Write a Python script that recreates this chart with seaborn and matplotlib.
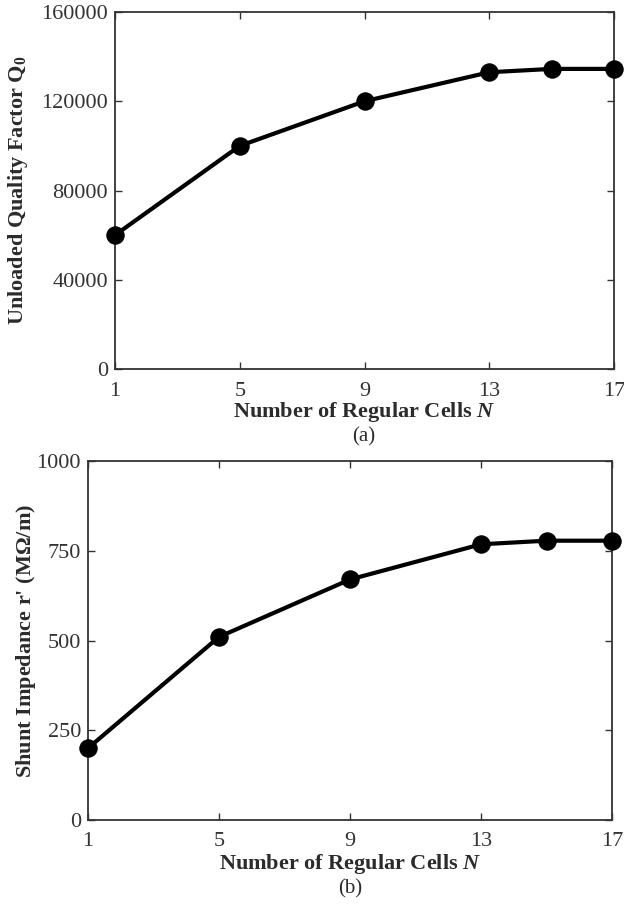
import matplotlib
matplotlib.use("Agg")
import matplotlib.pyplot as plt
import seaborn as sns
import pandas as pd

cells = [1, 5, 9, 13, 15, 17]
q0 = [60000, 100000, 120000, 133000, 134500, 134500]
shunt = [200, 510, 670, 768, 778, 778]
xticks = [1, 5, 9, 13, 17]
q_ticks = [0, 40000, 80000, 120000, 160000]
r_ticks = [0, 250, 500, 750, 1000]

sns.set_style("ticks")
plt.rcParams["font.family"] = ["Liberation Serif", "DejaVu Serif"]
plt.rcParams["mathtext.fontset"] = "custom"
plt.rcParams["mathtext.rm"] = "Liberation Serif"
plt.rcParams["mathtext.it"] = "Liberation Serif:italic"
plt.rcParams["mathtext.bf"] = "Liberation Serif:bold"
plt.rcParams["mathtext.bfit"] = "Liberation Serif:italic:bold"

df = pd.DataFrame({"N": cells, "Q0": q0, "R": shunt})

W, H = 624, 919
fig = plt.figure(figsize=(W / 100, H / 100), dpi=100)

def box(l, t, r, b):
    return [l / W, 1 - b / H, (r - l) / W, (b - t) / H]

ax1 = fig.add_axes(box(115, 12, 614, 369))
ax2 = fig.add_axes(box(88, 461, 612, 820))

tick_fs = 16
lab_fs = 16
txtc = "#2b2b2b"
panels = [
    (ax1, "Q0", q_ticks, r"Unloaded Quality Factor Q$_\mathbf{0}$", 30, 115, 499),
    (ax2, "R", r_ticks, r"Shunt Impedance r' (M$\mathbf{\Omega}$/m)", 38, 88, 524),
]
for ax, col, ticks, ylab, yl_x, left, width in panels:
    sns.lineplot(data=df, x="N", y=col, ax=ax, color="black", linewidth=3.0,
                 marker="o", markersize=12.5, markeredgecolor="black",
                 markerfacecolor="black", clip_on=False, zorder=5)
    ax.set_xlim(1, 17)
    ax.set_ylim(ticks[0], ticks[-1])
    ax.set_xticks(xticks)
    ax.set_yticks(ticks)
    ax.set_xticklabels([str(v) for v in xticks], fontsize=tick_fs, color=txtc)
    ax.set_yticklabels([str(v) for v in ticks], fontsize=tick_fs, color=txtc)
    ax.tick_params(direction="in", top=True, right=True, length=5, width=1.0,
                   colors="#333333")
    ax.tick_params(axis="x", pad=9)
    ax.tick_params(axis="y", pad=5)
    for s in ax.spines.values():
        s.set_visible(True)
        s.set_linewidth(1.3)
        s.set_color("#333333")
    ax.set_xlabel(r"Number of Regular Cells $\mathbfit{N}$", fontsize=lab_fs,
                  fontweight="bold", color=txtc, labelpad=0)
    ax.set_ylabel(ylab, fontsize=lab_fs, fontweight="bold", color=txtc)
    ax.yaxis.set_label_coords((yl_x - left) / width, 0.5)

fig.text(364 / W, 1 - 437 / H, "(a)", ha="center", va="center", fontsize=15,
         color=txtc)
fig.text(350 / W, 1 - 889 / H, "(b)", ha="center", va="center", fontsize=15,
         color=txtc)

fig.savefig("out.png", dpi=100)
